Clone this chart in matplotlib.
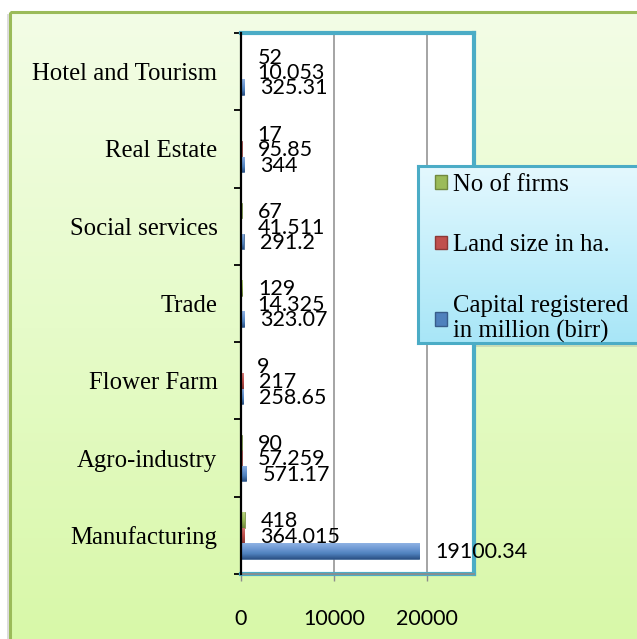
import numpy as np
import matplotlib
matplotlib.use("Agg")
import matplotlib.pyplot as plt
from matplotlib.patches import Rectangle, Patch
from matplotlib.colors import LinearSegmentedColormap

# ---------------- data ----------------
categories = ["Manufacturing", "Agro-industry", "Flower Farm", "Trade",
              "Social services", "Real Estate", "Hotel and Tourism"]
no_of_firms = [418, 90, 9, 129, 67, 17, 52]
land_size = [364.015, 57.259, 217, 14.325, 41.511, 95.85, 10.053]
capital = [19100.34, 571.17, 258.65, 323.07, 291.2, 344, 325.31]
firms_labels = ["418", "90", "9", "129", "67", "17", "52"]
land_labels = ["364.015", "57.259", "217", "14.325", "41.511", "95.85", "10.053"]
capital_labels = ["19100.34", "571.17", "258.65", "323.07", "291.2", "344", "325.31"]
series_names = ["No of firms", "Land size in ha.", "Capital registered\nin million (birr)"]
x_ticks = [0, 10000, 20000]

W, H = 637, 639
fig = plt.figure(figsize=(W / 100, H / 100), dpi=100)
fig.patch.set_facecolor("white")

SERIF = ["Liberation Serif", "DejaVu Serif"]
SANS = ["Lato", "DejaVu Sans"]

# ---------------- background ----------------
bg = fig.add_axes([0, 0, 1, 1], zorder=-10)
bg.set_xlim(0, W)
bg.set_ylim(H, 0)
bg.axis("off")
grad = np.linspace(0, 1, 256).reshape(-1, 1)
bgcmap = LinearSegmentedColormap.from_list("bg", ["#f3fde6", "#e6fbc9", "#d8f8a8"])
bg.imshow(grad, extent=[10, W + 5, H + 5, 12], cmap=bgcmap, aspect="auto")
bg.add_patch(Rectangle((10, 12), W, H, fill=False, edgecolor="#9bbb59", lw=2.2))
bg.add_patch(Rectangle((7, 14), 2, H, color="#dcdcdc", lw=0))
bg.add_patch(Rectangle((421, 169), W, 178, color="#9aa89a", alpha=0.35, lw=0))

# ---------------- plot area ----------------
L, R, T, B = 241, 474, 33, 574
ax = fig.add_axes([L / W, 1 - B / H, (R - L) / W, (B - T) / H])
ax.set_facecolor("white")
ax.set_xlim(0, 25000)
ax.set_ylim(-0.5, len(categories) - 0.5)

ypos = np.arange(len(categories))
h = 0.2
bars_cap = ax.barh(ypos - h, capital, height=h, color="#4f81bd", edgecolor="#385d8a", lw=0.5, zorder=3)
bars_land = ax.barh(ypos, land_size, height=h, color="#c0504d", edgecolor="#8c3836", lw=0.5, zorder=3)
bars_firm = ax.barh(ypos + h, no_of_firms, height=h, color="#9bbb59", edgecolor="#71893f", lw=0.5, zorder=3)


def bevel(container, cols):
    cm = LinearSegmentedColormap.from_list("b", cols)
    for r in container:
        x, y = r.get_x(), r.get_y()
        w, hh = r.get_width(), r.get_height()
        im = ax.imshow(np.linspace(0, 1, 64).reshape(-1, 1), extent=[x, x + w, y, y + hh],
                       cmap=cm, aspect="auto", zorder=3.5, origin="lower")
        im.set_clip_path(r)


bevel(bars_cap, ["#2c5286", "#4f81bd", "#6f9ad4", "#8fb2e4"])
bevel(bars_land, ["#8c3836", "#c0504d", "#d67875"])
bevel(bars_firm, ["#71893f", "#9bbb59", "#b8d480"])

# data labels
for container, labels in [(bars_cap, capital_labels), (bars_land, land_labels), (bars_firm, firms_labels)]:
    for r, lab in zip(container, labels):
        ax.annotate(lab, (r.get_x() + r.get_width(), r.get_y() + r.get_height() / 2),
                    xytext=(11.5, -1), textcoords="offset points", ha="left", va="center",
                    fontsize=15.5, family=SANS, color="black", zorder=6, annotation_clip=False)

# grid
for xv in x_ticks[1:]:
    ax.axvline(xv, color="#8c8c8c", lw=1.1, zorder=1)

# spines
for s in ["top", "right", "bottom"]:
    ax.spines[s].set_color("#4bacc6")
    ax.spines[s].set_linewidth(3)
ax.spines["left"].set_color("black")
ax.spines["left"].set_linewidth(1.6)
ax.spines["left"].set_zorder(5)
ax.axhline(-0.5, color="#8c8c8c", lw=1.3, zorder=4, clip_on=False)

# y axis ticks: boundaries as major ticks, labels on minor
ax.set_yticks(np.arange(-0.5, len(categories), 1.0))
ax.set_yticklabels([])
ax.tick_params(axis="y", which="major", direction="out", length=5, width=1.3, color="black")
ax.set_yticks(ypos, minor=True)
ax.set_yticklabels(categories, minor=True, family=SERIF, fontsize=17.8)
ax.tick_params(axis="y", which="minor", length=0, pad=17)

ax.set_xticks(x_ticks)
ax.set_xticklabels([str(v) for v in x_ticks], family=SANS, fontsize=15.5)
ax.tick_params(axis="x", direction="out", length=5, width=1, color="#8c8c8c", pad=20)

# ---------------- legend ----------------
lax = fig.add_axes([418 / W, 1 - 343 / H, (W + 5 - 418) / W, (343 - 166) / H], zorder=10)
lcmap = LinearSegmentedColormap.from_list("lg", ["#e4f8fe", "#c4effb", "#a8e6f7"])
lax.imshow(grad, extent=[0, 1, 0, 1], cmap=lcmap, aspect="auto", origin="upper")
lax.set_xlim(0, 1)
lax.set_ylim(0, 1)
lax.set_xticks([])
lax.set_yticks([])
for s in lax.spines.values():
    s.set_color("#4bacc6")
    s.set_linewidth(2.2)

handles = [Patch(facecolor="#9bbb59", edgecolor="#71893f"),
           Patch(facecolor="#c0504d", edgecolor="#8c3836"),
           Patch(facecolor="#4f81bd", edgecolor="#385d8a")]
leg = fig.legend(handles, series_names, loc="upper left",
                 bbox_to_anchor=(435 / W, 1 - 174 / H), bbox_transform=fig.transFigure,
                 frameon=False, prop={"family": SERIF, "size": 17.8},
                 handlelength=0.48, handleheight=0.48, handletextpad=0.25,
                 labelspacing=1.55, borderpad=0, borderaxespad=0)
leg.set_zorder(11)

fig.savefig("out.png", dpi=100, facecolor=fig.get_facecolor())
